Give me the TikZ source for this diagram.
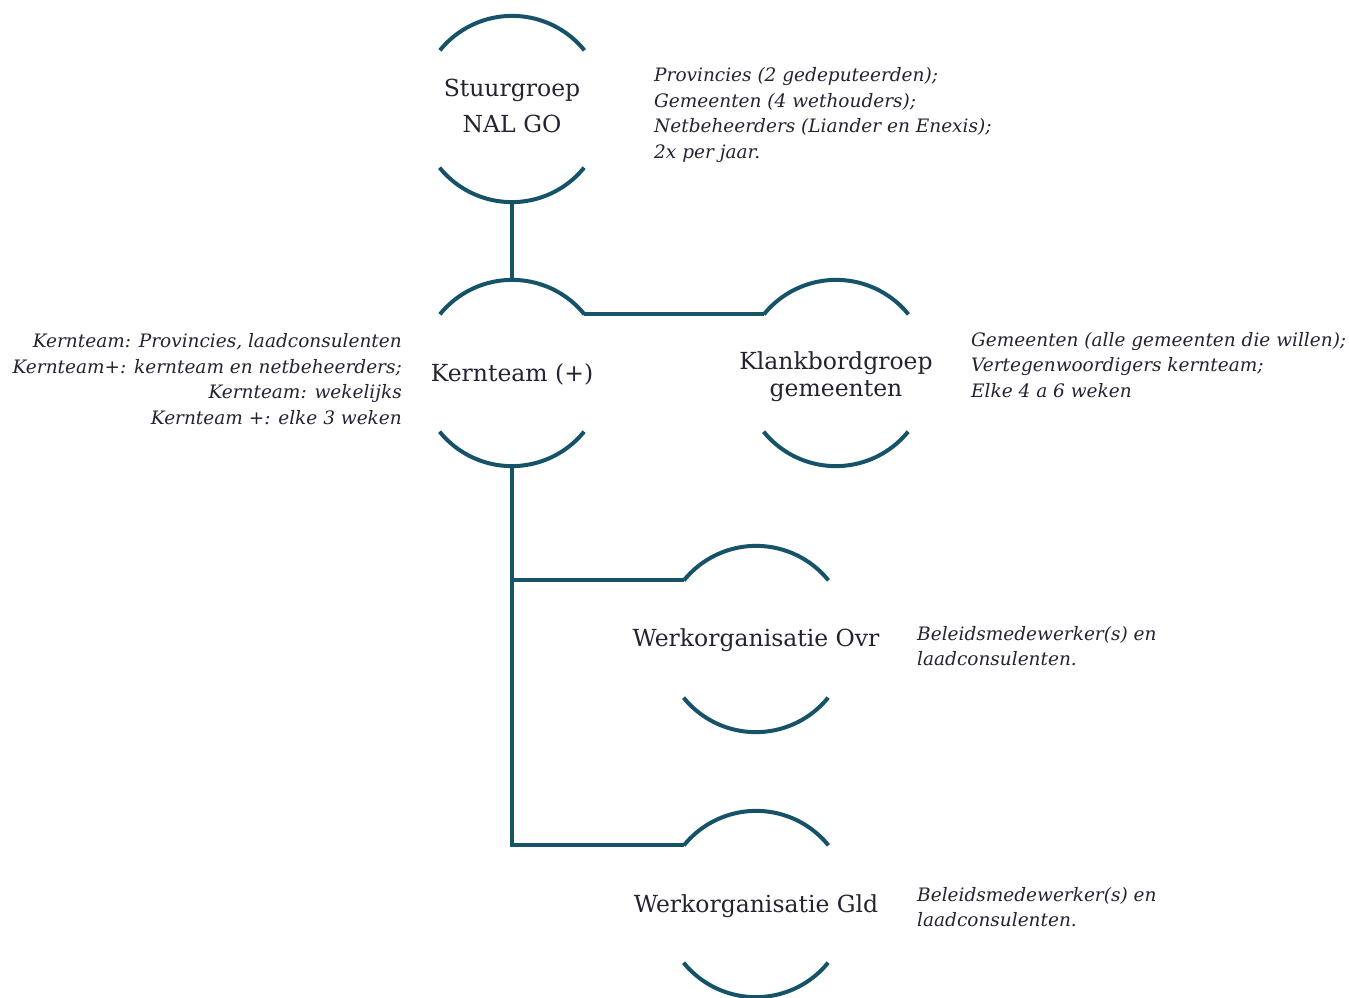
\documentclass[tikz,border=0pt]{standalone}
\usepackage{fontspec}
\setmainfont{DejaVu Serif}
\definecolor{ringc}{RGB}{22,82,104}
\definecolor{txtc}{RGB}{35,35,50}
\begin{document}
\begin{tikzpicture}[x=1pt,y=1pt,
  ring/.style={circle,minimum size=186pt,inner sep=0pt,draw=none},
  link/.style={draw=ringc,line width=4pt},
  maintext/.style={text=txtc,font=\fontsize{23.5}{27}\selectfont,align=center,inner sep=0pt},
  notel/.style={text=txtc,font=\fontsize{18.5}{25.8}\itshape\selectfont,align=left,anchor=west,inner sep=0pt},
  noter/.style={text=txtc,font=\fontsize{18.5}{25.8}\itshape\selectfont,align=right,anchor=east,inner sep=0pt}]
\useasboundingbox[fill=white] (0,0) rectangle (1349,-998);
% rings
\node[ring] (stuur) at (512,-109) {};
\node[ring] (kern) at (512,-373) {};
\node[ring] (klank) at (836,-373) {};
\node[ring] (ovr) at (756,-639) {};
\node[ring] (gld) at (756,-904) {};
\foreach \n in {stuur,kern,klank,ovr,gld}{
  \draw[link] (\n.39) arc (39:141:93);
  \draw[link] (\n.219) arc (219:321:93);
}
% connectors
\draw[link] (stuur.south) -- (kern.north);
\draw[link] (kern.39) -- (klank.141);
\draw[link] (kern.south) |- (ovr.141);
\draw[link] (kern.south) |- (gld.141);
% main labels
\node[maintext,font=\fontsize{23.5}{36}\selectfont] (tstuur) at (512,-106) {Stuurgroep\\NAL GO};
\node[maintext] (tkern) at (512,-374) {Kernteam (+)};
\node[maintext] (tklank) at (836,-377) {Klankbordgroep\\gemeenten};
\node[maintext] (tovr) at (756,-640) {Werkorganisatie Ovr};
\node[maintext] (tgld) at (756,-906) {Werkorganisatie Gld};
% notes
\node[notel] (nstuur) at (654,-115) {Provincies (2 gedeputeerden);\\Gemeenten (4 wethouders);\\Netbeheerders (Liander en Enexis);\\2x per jaar.};
\node[noter] (nkern) at (402,-379) {Kernteam: Provincies, laadconsulenten\\Kernteam+: kernteam en netbeheerders;\\Kernteam: wekelijks\\Kernteam +: elke 3 weken};
\node[notel] (nklank) at (971,-365) {Gemeenten (alle gemeenten die willen);\\Vertegenwoordigers kernteam;\\Elke 4 a 6 weken};
\node[notel] (novr) at (917,-646) {Beleidsmedewerker(s) en\\laadconsulenten.};
\node[notel] (ngld) at (917,-907) {Beleidsmedewerker(s) en\\laadconsulenten.};
\end{tikzpicture}
\end{document}
